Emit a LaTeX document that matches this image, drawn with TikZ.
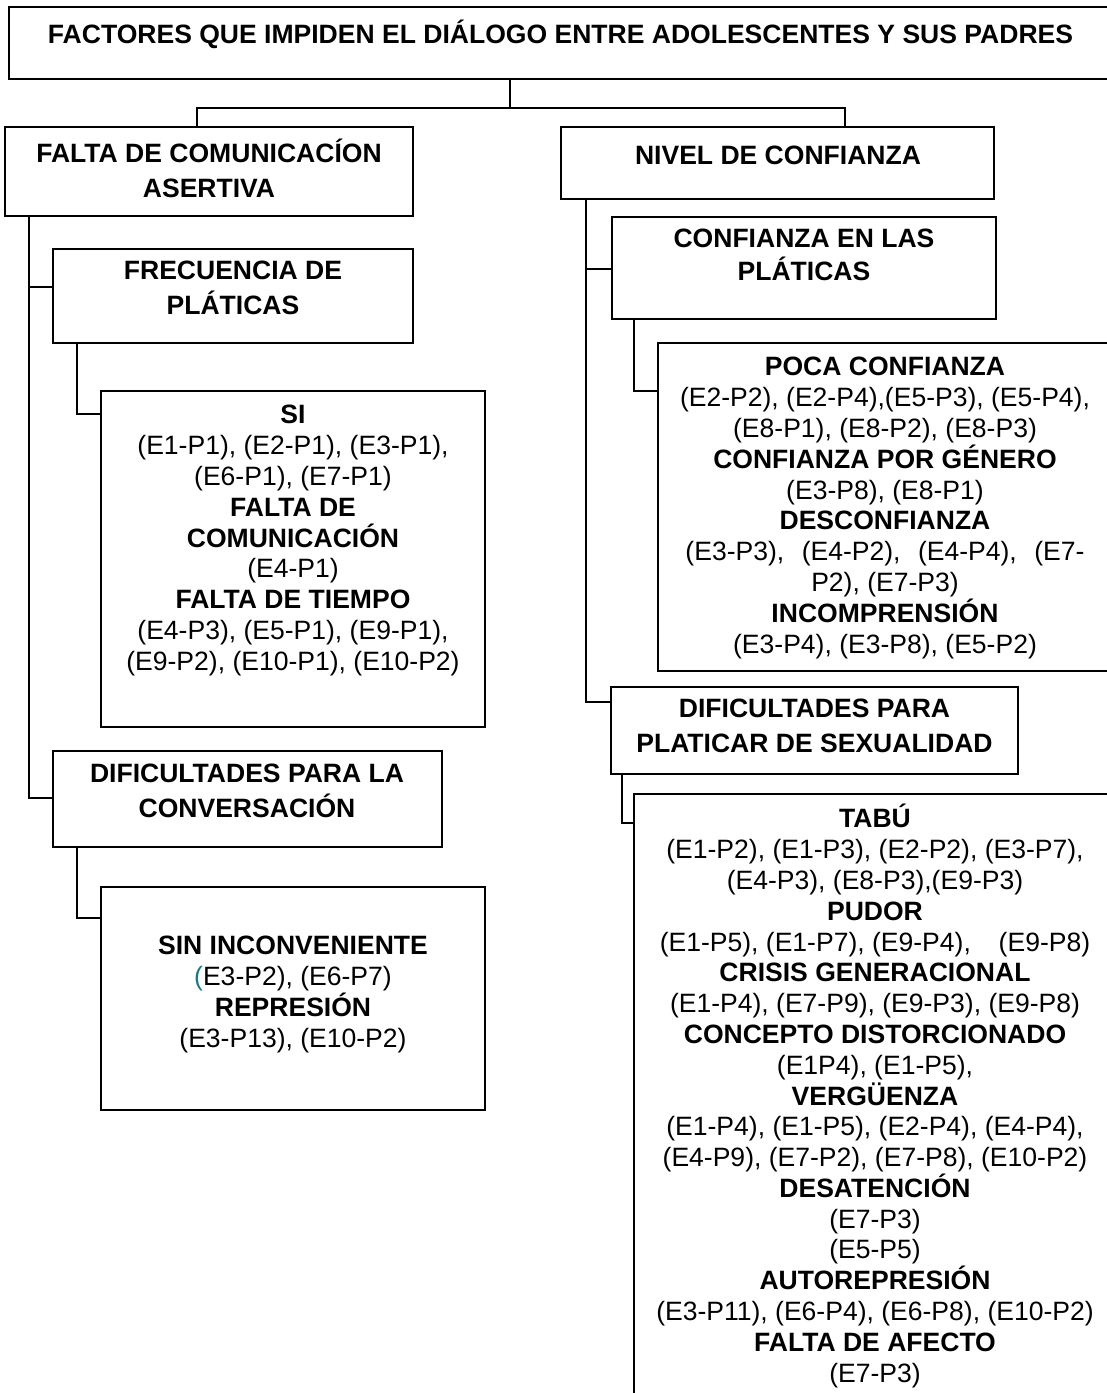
\documentclass[tikz,border=0pt]{standalone}
\usepackage{fontspec}
\setmainfont{Liberation Sans}
\usetikzlibrary{fit}
\definecolor{tealp}{RGB}{20,125,135}
\newcommand\firststrut{\rule{0pt}{19pt}}
\newcommand\hd[1]{\textbf{#1}}
\begin{document}
\begin{tikzpicture}[x=0.75pt,y=-0.75pt,
  box/.style={draw, line width=1.6pt, inner sep=0pt, outer sep=0pt},
  conn/.style={draw, line width=1.3pt},
  body/.style={anchor=north, align=center, inner sep=0pt,
    font={\fontsize{19.9pt}{23.1pt}\selectfont\lineskiplimit=-100pt},
    execute at begin node=\firststrut},
  head/.style={body, font={\fontsize{19.9pt}{26.25pt}\selectfont\bfseries\lineskiplimit=-100pt}},
  headb/.style={body, font={\fontsize{19.9pt}{24.75pt}\selectfont\bfseries\lineskiplimit=-100pt}}]
\useasboundingbox (0,0) rectangle (1107,1393);
\fill[white] (0,0) rectangle (1107,1393);
\clip (0,0) rectangle (1107,1393);

% boxes
\node[box, fit={(9,7) (1130,79)}] (title) {};
\node[box, fit={(5,127) (413,216)}] (falta) {};
\node[box, fit={(561,127) (994,199)}] (nivel) {};
\node[box, fit={(53,249) (413,343)}] (frec) {};
\node[box, fit={(101,391) (485,727)}] (si) {};
\node[box, fit={(53,751) (442,847)}] (dific1) {};
\node[box, fit={(101,887) (485,1110)}] (sin) {};
\node[box, fit={(612,217) (996,319)}] (conf) {};
\node[box, fit={(658,343) (1130,671)}] (poca) {};
\node[box, fit={(611,687) (1018,774)}] (dific2) {};
\node[box, fit={(634,794) (1130,1410)}] (tabu) {};

% connectors
\coordinate (jT) at (510,108);
\coordinate (jL) at (197,108);
\coordinate (jR) at (845,108);
\draw[conn] (jT |- title.south) -- (jT);
\draw[conn] (jL |- falta.north) -- (jL) -- (jR) -- (jR |- nivel.north);

\coordinate (tL) at (29,0);
\coordinate (bF) at (29,287);
\coordinate (bD) at (29,798);
\draw[conn] (tL |- falta.south) -- (bD) -- (bD -| dific1.west);
\draw[conn] (bF) -- (bF -| frec.west);
\coordinate (sF) at (77,414);
\draw[conn] (sF |- frec.south) -- (sF) -- (sF -| si.west);
\coordinate (sD) at (77,918);
\draw[conn] (sD |- dific1.south) -- (sD) -- (sD -| sin.west);

\coordinate (bC) at (586,269);
\coordinate (bS) at (586,702);
\draw[conn] (bS |- nivel.south) -- (bS) -- (bS -| dific2.west);
\draw[conn] (bC) -- (bC -| conf.west);
\coordinate (sC) at (634,391);
\draw[conn] (sC |- conf.south) -- (sC) -- (sC -| poca.west);
\coordinate (sS) at (622,823);
\draw[conn] (sS |- dific2.south) -- (sS) -- (sS -| tabu.west);

% texts
\node[head] (titleT) at (560.5,18.2) {FACTORES QUE IMPIDEN EL DIÁLOGO ENTRE ADOLESCENTES Y SUS PADRES};
\node[head] (faltaT) at (209,138.5) {FALTA DE COMUNICACÍON\\ASERTIVA};
\node[head] (nivelT) at (778,138.5) {NIVEL DE CONFIANZA};
\node[head] (frecT) at (233,260.5) {FRECUENCIA DE\\PLÁTICAS};
\node[body] (siT) at (293,405) {\hd{SI}\\(E1-P1), (E2-P1), (E3-P1),\\(E6-P1), (E7-P1)\\\hd{FALTA DE}\\\hd{COMUNICACIÓN}\\(E4-P1)\\\hd{FALTA DE TIEMPO}\\(E4-P3), (E5-P1), (E9-P1),\\(E9-P2), (E10-P1), (E10-P2)};
\node[head] (dific1T) at (247,763.5) {DIFICULTADES PARA LA\\CONVERSACIÓN};
\node[body] (sinT) at (293,936) {\hd{SIN INCONVENIENTE}\\{\color{tealp}(}E3-P2), (E6-P7)\\\hd{REPRESIÓN}\\(E3-P13), (E10-P2)};
\node[headb] (confT) at (804,228.5) {CONFIANZA EN LAS\\PLÁTICAS};
\node[body] (pocaT) at (885,357) {\hd{POCA CONFIANZA}\\(E2-P2), (E2-P4),(E5-P3), (E5-P4),\\(E8-P1), (E8-P2), (E8-P3)\\\hd{CONFIANZA POR GÉNERO}\\(E3-P8), (E8-P1)\\\hd{DESCONFIANZA}\\(E3-P3),\hspace{.66em}(E4-P2),\hspace{.66em}(E4-P4),\hspace{.66em}(E7-\\P2), (E7-P3)\\\hd{INCOMPRENSIÓN}\\(E3-P4), (E3-P8), (E5-P2)};
\node[head] (dific2T) at (814.5,698.5) {DIFICULTADES PARA\\PLATICAR DE SEXUALIDAD};
\node[body] (tabuT) at (875,804) {\hd{TABÚ}\\(E1-P2), (E1-P3), (E2-P2), (E3-P7),\\(E4-P3), (E8-P3),(E9-P3)\\\hd{PUDOR}\\(E1-P5), (E1-P7), (E9-P4),\hspace{1.05em}(E9-P8)\\\hd{CRISIS GENERACIONAL}\\(E1-P4), (E7-P9), (E9-P3), (E9-P8)\\\hd{CONCEPTO DISTORCIONADO}\\(E1P4), (E1-P5),\\\hd{VERGÜENZA}\\(E1-P4), (E1-P5), (E2-P4), (E4-P4),\\(E4-P9), (E7-P2), (E7-P8), (E10-P2)\\\hd{DESATENCIÓN}\\(E7-P3)\\(E5-P5)\\\hd{AUTOREPRESIÓN}\\(E3-P11), (E6-P4), (E6-P8), (E10-P2)\\\hd{FALTA DE AFECTO}\\(E7-P3)};
\end{tikzpicture}
\end{document}
